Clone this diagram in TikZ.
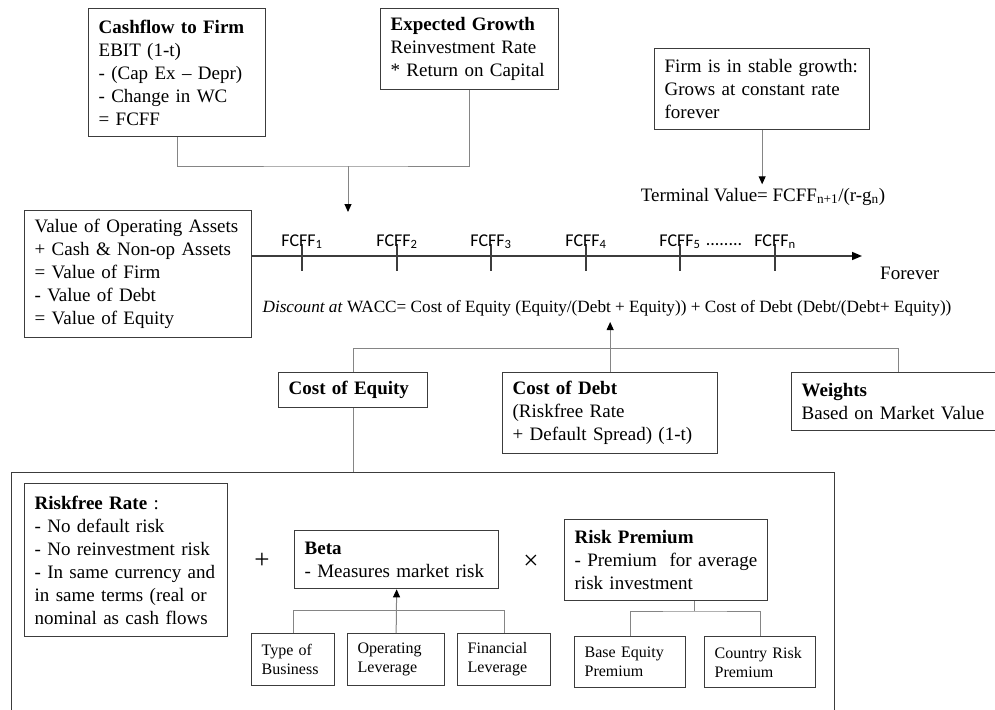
\documentclass[tikz,border=0pt]{standalone}
\usepackage{fontspec}
\setmainfont{Liberation Serif}
\newfontfamily\calib{Carlito}
\usetikzlibrary{arrows.meta}
\definecolor{boxc}{HTML}{3C3C3C}
\definecolor{linkc}{HTML}{858585}
\begin{document}
\begin{tikzpicture}[x=1pt,y=-1pt,
  box/.style={draw=boxc, line width=1.3pt, anchor=north west, align=left,
    inner xsep=10pt, inner ysep=0pt, font=\fontsize{19}{23}\selectfont},
  smallbox/.style={box, font=\fontsize{16}{19}\selectfont},
  link/.style={draw=linkc, line width=1pt},
  arr/.style={link, -{Triangle[length=8pt,width=7pt,color=black]}},
  axisline/.style={draw=boxc, line width=1.5pt, -{Triangle[length=10pt,width=8pt,color=black]}},
  tickmark/.style={draw=boxc, line width=1.3pt},
  flab/.style={font=\calib\fontsize{18}{21}\selectfont, anchor=base, inner sep=0pt},
  plain/.style={font=\fontsize{19}{23}\selectfont},
  opsign/.style={font=\fontsize{27}{30}\selectfont, inner sep=0pt}]
\useasboundingbox (0,0) rectangle (995,709);
\clip (0,0) rectangle (995,709);

% top: cash flow and growth inputs
\node[box, text width=157pt, minimum height=128pt] (cf) at (88,8)
  {\textbf{Cashflow to Firm}\\EBIT (1-t)\\- (Cap Ex – Depr)\\- Change in WC\\= FCFF};
\node[box, text width=158pt, minimum height=81pt] (eg) at (380,8)
  {\textbf{Expected Growth}\\Reinvestment Rate\\{*} Return on Capital};
\node[box, text width=195pt, minimum height=81pt] (fsg) at (654,48)
  {Firm is in stable growth:\\Grows at constant rate\\forever};
\node[plain, anchor=base] (tv) at (763,201)
  {Terminal Value= FCFF\textsubscript{n+1}/(r-g\textsubscript{n})};

\coordinate (tj) at (348,166);
\coordinate (tt) at (348,212);
\draw[link] (cf.south) |- (tj) -| (eg.south);
\draw[arr] (tj) -- (tt);
\draw[arr] (fsg.south) -- (fsg.south |- tv.north);

% value box and cash flow time line
\node[box, text width=207pt, minimum height=127pt] (val) at (24,210)
  {Value of Operating Assets\\+ Cash \& Non-op Assets\\= Value of Firm\\- Value of Debt\\= Value of Equity};
\coordinate (axend) at (862,256);
\draw[axisline] (val.east |- axend) -- (axend);
\foreach \x/\s [count=\i] in {302/1,397/2,491/3,586/4,680/5,775/n}{
  \draw[tickmark] (\x,244) -- (\x,271);
  \node[flab] (f\i) at (\x,246) {FCFF\textsubscript{\s}};
}
\node[flab] (dots) at (724,245) {........};
\node[plain, anchor=base west, inner sep=0pt] (forever) at (880,279) {Forever};

\node[font=\fontsize{17.2}{20}\selectfont, anchor=base] (disc) at (607,312)
  {\textit{Discount at} WACC= Cost of Equity (Equity/(Debt + Equity)) + Cost of Debt (Debt/(Debt+ Equity))};

% discount rate components
\node[box, text width=129pt, minimum height=35pt] (coe) at (278,372) {\textbf{Cost of Equity}};
\node[box, text width=195pt, minimum height=81pt] (cod) at (502,372)
  {\textbf{Cost of Debt}\\(Riskfree Rate\\+ Default Spread) (1-t)};
\node[box, text width=194pt, minimum height=58pt] (w) at (791,372)
  {\textbf{Weights}\\Based on Market Value};

\coordinate (mj) at (0,348);
\coordinate (dtip) at (609.5,322);
\draw[link] (coe.north) -- (coe.north |- mj) -| (w.north);
\draw[arr] (cod.north) -- (cod.north |- dtip);

% cost of equity breakdown
\node[draw=boxc, line width=1.3pt, anchor=north west, minimum width=823pt, minimum height=300pt] (big) at (11,472) {};
\draw[link] (coe.south) -- (coe.south |- big.north);

\node[box, text width=183pt, minimum height=153pt] (rf) at (24,483)
  {\textbf{Riskfree Rate} :\\- No default risk\\- No reinvestment risk\\- In same currency and\\in same terms (real or\\nominal as cash flows};
\node[opsign] (plus) at (262,561) {+};
\node[box, text width=184pt, minimum height=58pt] (beta) at (294,530)
  {\textbf{Beta}\\- Measures market risk};
\node[opsign] (times) at (531,562) {×};
\node[box, text width=183pt, minimum height=81pt] (rp) at (564,519)
  {\textbf{Risk Premium}\\- Premium\ \ for average\\risk investment};

\node[smallbox, text width=63pt, minimum height=52pt] (tob) at (251,633) {Type of\\Business};
\node[smallbox, text width=77pt, minimum height=52pt] (ol) at (347,633) {Operating\\Leverage};
\node[smallbox, text width=73pt, minimum height=52pt] (fl) at (457,633) {Financial\\Leverage};
\node[smallbox, text width=91pt, minimum height=51pt] (bep) at (574,636) {Base Equity\\Premium};
\node[smallbox, text width=91pt, minimum height=51pt] (crp) at (704,636) {Country Risk\\Premium};

\coordinate (bj) at (0,610);
\draw[link] (tob.north) -- (tob.north |- bj) -- (fl.north |- bj) -- (fl.north);
\draw[arr] (ol.north) -- (beta.south);

\coordinate (rj) at (694.5,611);
\draw[link] (bep.north) |- (rj) -| (crp.north);
\draw[link] (rj) -- (rj |- rp.south);
\end{tikzpicture}
\end{document}
